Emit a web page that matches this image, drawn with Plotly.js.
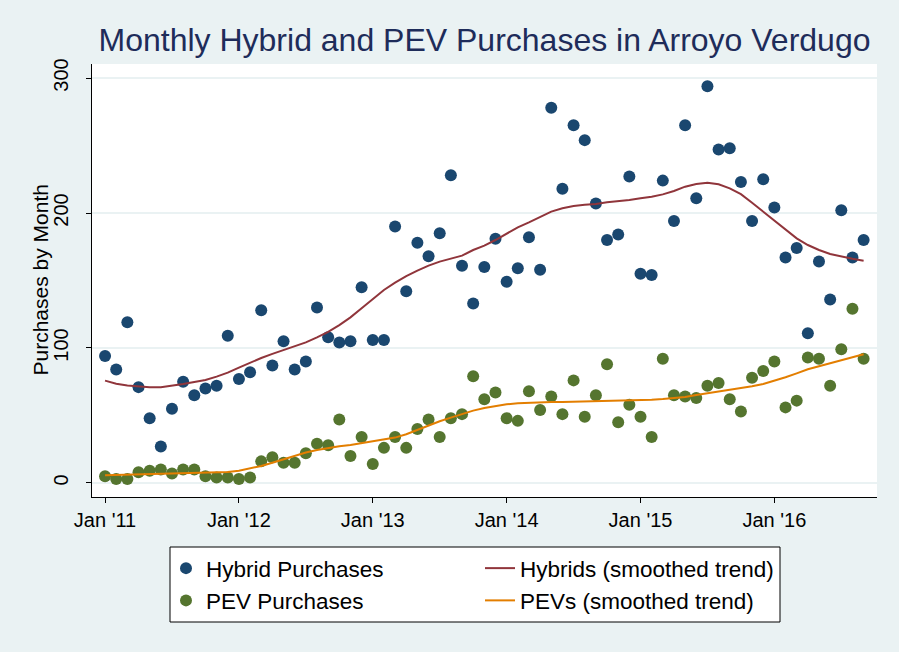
<!DOCTYPE html>
<html>
<head>
<meta charset="utf-8">
<script src="https://cdn.plot.ly/plotly-3.0.1.min.js"></script>
<style>html,body{margin:0;padding:0;background:#EAF2F3;}#chart{width:899px;height:652px;}</style>
</head>
<body>
<div id="chart"></div>
<script>
// Month index: 0 = Jan 2011 ... 68 = Sep 2016
const months = Array.from({length: 69}, (_, i) => i);
const tickMonths = [0, 12, 24, 36, 48, 60];
const tickLabels = ["Jan '11", "Jan '12", "Jan '13", "Jan '14", "Jan '15", "Jan '16"];

const hybridPurchases = [
  94, 84, 119, 71, 48, 27, 55, 75, 65, 70, 72, 109,
  77, 82, 128, 87, 105, 84, 90, 130, 108, 104, 105, 145,
  106, 106, 190, 142, 178, 168, 185, 228, 161, 133, 160, 181,
  149, 159, 182, 158, 278, 218, 265, 254, 207, 180, 184, 227,
  155, 154, 224, 194, 265, 211, 294, 247, 248, 223, 194, 225,
  204, 167, 174, 111, 164, 136, 202, 167, 180
];
const pevPurchases = [
  5, 3, 3, 8, 9, 10, 7, 10, 10, 5, 4, 4,
  3, 4, 16, 19, 15, 15, 22, 29, 28, 47, 20, 34,
  14, 26, 34, 26, 40, 47, 34, 48, 51, 79, 62, 67,
  48, 46, 68, 54, 64, 51, 76, 49, 65, 88, 45, 58,
  49, 34, 92, 65, 64, 63, 72, 74, 62, 53, 78, 83,
  90, 56, 61, 93, 92, 72, 99, 129, 92
];
const hybridTrend = [
  75.8, 73.5, 72.2, 71.3, 70.9, 71.0, 71.9, 73.3, 74.8, 76.3, 78.8, 81.7,
  85.4, 89.1, 92.6, 95.6, 98.5, 101.2, 104.2, 107.9, 112.0, 117.0, 122.7, 129.4,
  136.0, 143.0, 148.4, 153.3, 157.3, 161.0, 164.0, 166.0, 168.4, 172.6, 175.8, 180.0,
  185.0, 189.4, 193.1, 196.8, 201.0, 203.5, 205.2, 206.1, 206.7, 207.9, 208.5, 209.6,
  210.9, 212.0, 213.8, 216.3, 219.5, 221.5, 222.5, 221.3, 218.3, 214.0, 207.6, 201.0,
  194.3, 187.4, 181.2, 176.3, 172.6, 169.6, 167.7, 166.1, 164.7
];
const pevTrend = [
  5.7, 5.9, 6.2, 6.4, 6.7, 6.9, 6.9, 6.9, 7.2, 7.2, 7.7, 8.1,
  9.1, 10.6, 12.6, 15.0, 17.5, 20.0, 22.5, 24.4, 25.9, 27.2, 28.1, 29.5,
  30.8, 31.9, 33.6, 36.1, 39.3, 42.7, 45.7, 48.4, 51.1, 53.6, 55.6, 57.0,
  58.3, 59.0, 59.5, 59.8, 60.0, 60.0, 60.2, 60.2, 60.2, 60.5, 60.6, 61.0,
  61.2, 61.7, 62.2, 62.7, 63.7, 65.2, 66.4, 67.9, 69.1, 70.1, 71.6, 73.3,
  75.6, 78.3, 81.2, 84.2, 86.4, 88.6, 90.6, 93.1, 95.3
];

const NAVY = '#1A476F', MAROON = '#90353B', GREEN = '#55752F', ORANGE = '#E37E00';
const BG = '#EAF2F3';
const FONT = 'Liberation Sans, Arial, sans-serif';

const traces = [
  {x: months, y: hybridPurchases, type: 'scatter', mode: 'markers', name: 'Hybrid Purchases',
   marker: {color: NAVY, size: 12, line: {width: 0}}, legend: 'legend', legendgroup: 'a'},
  {x: months, y: pevPurchases, type: 'scatter', mode: 'markers', name: 'PEV Purchases',
   marker: {color: GREEN, size: 12, line: {width: 0}}, legend: 'legend', legendgroup: 'b'},
  {x: months, y: hybridTrend, type: 'scatter', mode: 'lines', name: 'Hybrids (smoothed trend)',
   line: {color: MAROON, width: 2}, legend: 'legend2', legendgroup: 'c'},
  {x: months, y: pevTrend, type: 'scatter', mode: 'lines', name: 'PEVs (smoothed trend)',
   line: {color: ORANGE, width: 2}, legend: 'legend2', legendgroup: 'd'}
];

const legendCommon = {
  orientation: 'v', xref: 'container', yref: 'container', xanchor: 'left', yanchor: 'top',
  y: 1 - 547/652, bgcolor: 'rgba(0,0,0,0)', borderwidth: 0,
  font: {family: FONT, size: 22.5, color: '#000'}, tracegroupgap: 0, itemsizing: 'trace'
};

const layout = {
  width: 899, height: 652,
  paper_bgcolor: BG, plot_bgcolor: '#FFFFFF',
  margin: {l: 92, r: 22, t: 64, b: 155, autoexpand: false},
  font: {family: FONT, color: '#000'},
  title: {text: 'Monthly Hybrid and PEV Purchases in Arroyo Verdugo',
          font: {family: FONT, size: 32, color: '#1E2C5A'},
          xref: 'paper', x: 0.5, xanchor: 'center', yref: 'container', y: 1 - 40/652, yanchor: 'middle'},
  xaxis: {range: [-1.17, 69.2], tickvals: tickMonths, ticktext: tickLabels,
          showgrid: false, zeroline: false, showline: true, linecolor: '#000', linewidth: 1,
          ticks: 'outside', ticklen: 5, tickcolor: '#000', tickfont: {family: FONT, size: 20, color: '#000'}},
  yaxis: {range: [-10.4, 310.4], tickvals: [0, 100, 200, 300],
          showgrid: true, gridcolor: BG, gridwidth: 1.5, zeroline: false,
          showline: true, linecolor: '#000', linewidth: 1,
          ticks: 'outside', ticklen: 5, tickcolor: '#000', tickangle: -90,
          tickfont: {family: FONT, size: 20, color: '#000'}, ticklabelstandoff: 10},
  annotations: [{text: 'Purchases by Month', xref: 'paper', yref: 'paper',
                 x: (40-92)/785, y: 0.5, xanchor: 'center', yanchor: 'middle',
                 textangle: -90, showarrow: false,
                 font: {family: FONT, size: 21, color: '#000'}}],
  legend: Object.assign({}, legendCommon, {x: 166/899}),
  legend2: Object.assign({}, legendCommon, {x: 480/899}),
  shapes: [{type: 'rect', xref: 'paper', yref: 'paper',
            x0: (170-92)/785, x1: (780-92)/785, y0: (497-622)/433, y1: (497-547)/433,
            line: {color: '#000', width: 1}, fillcolor: '#FFFFFF', layer: 'below'}],
  showlegend: true
};

Plotly.newPlot('chart', traces, layout, {displayModeBar: false, staticPlot: true});
</script>
</body>
</html>
